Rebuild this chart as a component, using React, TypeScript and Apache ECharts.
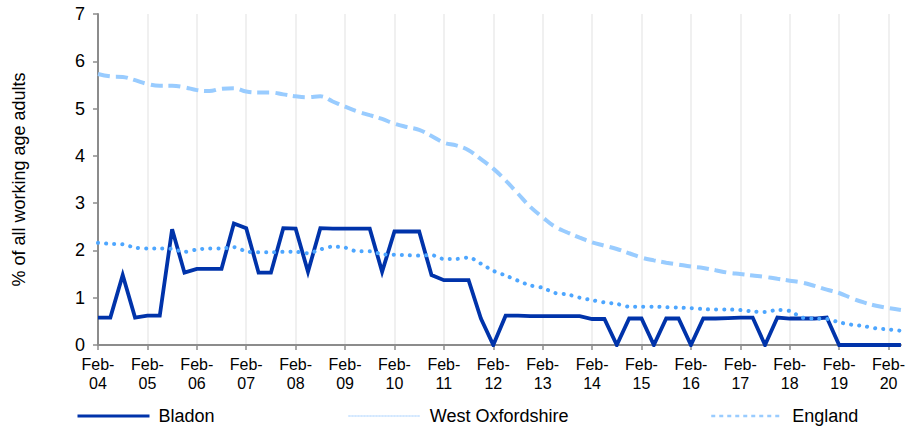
import React, { useEffect, useRef } from "react";
import * as echarts from "echarts";

const years = ["04","05","06","07","08","09","10","11","12","13","14","15","16","17","18","19","20"];
const months = ["Feb", "May", "Aug", "Nov"];

const bladon = [
  0.58, 0.58, 1.48, 0.58, 0.62, 0.62, 2.45, 1.53, 1.61, 1.61, 1.61, 2.57, 2.47, 1.53, 1.53, 2.47,
  2.46, 1.55, 2.47, 2.46, 2.46, 2.46, 2.46, 1.55, 2.4, 2.4, 2.4, 1.48, 1.37, 1.37, 1.37, 0.56,
  0, 0.62, 0.62, 0.61, 0.61, 0.61, 0.61, 0.61, 0.55, 0.55, 0, 0.56, 0.56, 0, 0.56, 0.56,
  0, 0.56, 0.56, 0.57, 0.58, 0.58, 0, 0.58, 0.56, 0.56, 0.56, 0.58, 0, 0, 0, 0, 0, 0,
];

const westOxfordshire = [
  2.16, 2.14, 2.13, 2.06, 2.04, 2.04, 2.03, 1.97, 2.02, 2.04, 2.04, 2.07, 1.98, 1.96, 1.96, 1.97,
  1.97, 1.94, 2.02, 2.08, 2.06, 1.98, 1.98, 1.92, 1.91, 1.9, 1.89, 1.9, 1.82, 1.82, 1.85, 1.72,
  1.57, 1.47, 1.36, 1.26, 1.21, 1.1, 1.07, 1.0, 0.95, 0.9, 0.87, 0.81, 0.81, 0.81, 0.8, 0.79,
  0.78, 0.76, 0.75, 0.75, 0.74, 0.71, 0.7, 0.74, 0.72, 0.58, 0.56, 0.55, 0.48, 0.43, 0.4, 0.35,
  0.33, 0.3,
];

const england = [
  5.73, 5.68, 5.67, 5.6, 5.52, 5.48, 5.48, 5.45, 5.39, 5.37, 5.42, 5.43, 5.36, 5.34, 5.34, 5.3,
  5.26, 5.24, 5.26, 5.15, 5.04, 4.94, 4.86, 4.78, 4.68, 4.61, 4.55, 4.42, 4.28, 4.22, 4.12, 3.93,
  3.73, 3.48, 3.2, 2.92, 2.7, 2.5, 2.38, 2.27, 2.17, 2.1, 2.03, 1.94, 1.85, 1.79, 1.74, 1.7,
  1.66, 1.63, 1.58, 1.53, 1.5, 1.47, 1.44, 1.4, 1.36, 1.32, 1.25, 1.17, 1.1, 0.99, 0.9, 0.83,
  0.78, 0.74,
];

const categories: string[] = [];
years.forEach((y) => months.forEach((m) => categories.push(m + "-" + y)));
categories.length = bladon.length;

const FONT = "'Liberation Sans', Arial, Helvetica, sans-serif";
const C_BLADON = "#0033aa";
const C_WO = "#4da6ff";
const C_ENG = "#99ccff";

const hiddenSymbol = { color: "rgba(0,0,0,0)", borderWidth: 0, opacity: 0 };

export default function App() {
  const ref = useRef<HTMLDivElement>(null);
  useEffect(() => {
    if (!ref.current) return;
    const chart = echarts.init(ref.current, undefined, { renderer: "svg" });
    const legendBase = {
      top: 407,
      padding: 0,
      itemWidth: 72,
      itemHeight: 18,
      textStyle: { fontFamily: FONT, fontSize: 18, color: "#000", padding: [0, 0, 0, 4] },
    };
    chart.setOption({
      animation: false,
      textStyle: { fontFamily: FONT },
      grid: { left: 98, right: 4, top: 14, bottom: 83, containLabel: false },
      legend: [
        {
          ...legendBase,
          left: 76,
          data: [{ name: "Bladon", itemStyle: hiddenSymbol, lineStyle: { color: C_BLADON, width: 3, type: "solid" } }],
        },
        {
          ...legendBase,
          left: 348,
          data: [{ name: "West Oxfordshire", itemStyle: hiddenSymbol, lineStyle: { color: "#c4e0ff", width: 1.5, type: [1.5, 1.5] } }],
        },
        {
          ...legendBase,
          left: 710,
          data: [{ name: "England", itemStyle: hiddenSymbol, lineStyle: { color: C_ENG, width: 2.5, type: [4, 4] } }],
        },
      ],
      xAxis: {
        type: "category",
        data: categories,
        boundaryGap: false,
        axisLine: { lineStyle: { color: "#8c8c8c", width: 2 } },
        axisTick: { show: true, interval: 3, length: 5, lineStyle: { color: "#8c8c8c", width: 1.5 } },
        splitLine: { show: true, interval: 3, lineStyle: { color: "#ebebeb", width: 1.5 } },
        axisLabel: {
          interval: 3,
          margin: 10,
          fontSize: 16,
          lineHeight: 19,
          color: "#000",
          fontFamily: FONT,
          formatter: (v: string) => v.replace("-", "-\n"),
        },
      },
      yAxis: {
        type: "value",
        min: 0,
        max: 7,
        interval: 1,
        name: "% of all working age adults",
        nameLocation: "middle",
        nameGap: 70,
        nameTextStyle: { fontSize: 18, color: "#000", fontFamily: FONT },
        axisLine: { show: true, lineStyle: { color: "#8c8c8c", width: 2 } },
        axisTick: { show: true, length: 5, lineStyle: { color: "#8c8c8c", width: 1.5 } },
        splitLine: { show: false },
        axisLabel: { fontSize: 18, color: "#000", margin: 13, fontFamily: FONT },
      },
      series: [
        {
          name: "England",
          type: "line",
          data: england,
          symbol: "none",
          smooth: 0.4,
          lineStyle: { color: C_ENG, width: 4, type: [12, 6] },
          itemStyle: { color: C_ENG },
        },
        {
          name: "Bladon",
          type: "line",
          data: bladon,
          symbol: "none",
          lineStyle: { color: C_BLADON, width: 3.8, join: "miter" },
          itemStyle: { color: C_BLADON },
        },
        {
          name: "West Oxfordshire",
          type: "line",
          data: westOxfordshire,
          symbol: "none",
          smooth: 0.3,
          lineStyle: { color: C_WO, width: 4, type: [0.1, 8], cap: "round" },
          itemStyle: { color: C_WO },
        },
      ],
    });
    return () => chart.dispose();
  }, []);
  return <div ref={ref} style={{ width: 908, height: 428, position: "absolute", left: 0, top: 0 }} />;
}
